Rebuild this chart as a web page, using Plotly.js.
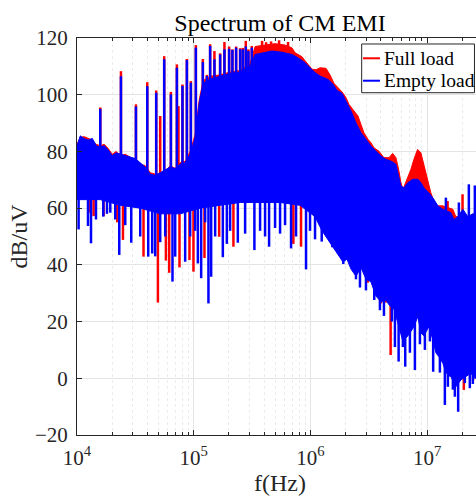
<!DOCTYPE html>
<html><head><meta charset="utf-8">
<script src="https://cdn.plot.ly/plotly-3.0.1.min.js"></script>
<style>html,body{margin:0;padding:0;overflow:hidden;background:#fff}</style>
</head><body><div id="chart"></div>
<script>
// ---- Full load (red) ----
const redTopF = [1.0e4,1.067e4,1.155e4,1.249e4,1.352e4,1.463e4,1.582e4,1.712e4,1.853e4,2.004e4,2.169e4,2.346e4,2.590e4,2.857e4,3.153e4,3.479e4,3.838e4,4.236e4,4.675e4,5.160e4,5.694e4,6.283e4,6.934e4,7.651e4,8.440e4,9.316e4,1.028e5,1.112e5,1.203e5,1.381e5,1.682e5,2.048e5,2.495e5,3.037e5,3.352e5,4.080e5,4.970e5,6.052e5,6.947e5,7.369e5,8.459e5,8.974e5,1.030e6,1.114e6,1.206e6,1.357e6,1.468e6,1.589e6,1.719e6,1.860e6,2.012e6,2.135e6,2.356e6,2.549e6,2.704e6,2.868e6,3.103e6,3.292e6,3.493e6,3.855e6,4.253e6,4.694e6,5.050e6,5.387e6,5.682e6,5.946e6,6.185e6,6.433e6,6.826e6,7.239e6,7.680e6,8.260e6,8.816e6,9.352e6,1.012e7,1.073e7,1.139e7,1.232e7,1.360e7,1.656e7,1.756e7,2.269e7,2.504e7,3.0e7];
const redTopV = [82.5,85,85.2,84.5,84,82.5,82,82.5,81,79,80,78.5,79,78,77,75.5,75,72.5,72,72,73,75,74,76,76.5,80,86,98,105,106.5,107,108,108.5,111,117,117.5,118,117.5,116.5,114.8,113.4,112,109,108.8,109.5,109.3,107,104,102.5,101,99,96.6,94.3,92.5,89.5,86.6,84.3,83.1,81.3,80.1,77.8,77.8,79.3,77.8,73.7,69,66.6,68.4,71.3,73.7,77.2,80.7,79.5,75.5,70.2,65.4,62.5,60.8,60.8,59.6,57,57,58,57];
const redBotF = [1.0e4,1.582e4,2.346e4,3.479e4,5.160e4,7.651e4,1.135e5,1.682e5,2.495e5,3.698e5,5.484e5,8.132e5,1.093e6,1.254e6,1.468e6,1.636e6,1.897e6,2.052e6,2.221e6,2.450e6,2.704e6,2.984e6,3.292e6,3.633e6,4.009e6,4.424e6,4.787e6,5.179e6,5.604e6,6.185e6,6.826e6,7.532e6,8.311e6,8.816e6,9.352e6,1.032e7,1.117e7,1.185e7,1.257e7,1.360e7,1.443e7,1.592e7,1.756e7,1.939e7,2.139e7,2.360e7,2.554e7,3.0e7];
const redBotV = [64,64,62,61,59,59,61,62,63,63,63,62,58,53,49,46,42,43,40,37,40,36,35,30,28,28.5,26.5,25.5,20.5,14,16,18.6,22.7,17,16,19.2,14.5,10,8.6,6.3,3,1.6,-2,0.4,1.6,2.8,1,1];
const redUpF = [1.582e4,2.379e4,3.197e4,3.995e4,4.768e4,5.160e4,5.582e4,6.370e4,7.169e4,7.398e4,8.003e4,8.730e4,9.445e4,1.042e5,1.196e5,1.295e5,1.381e5,1.503e5,1.682e5,1.831e5,2.008e5,2.143e5,2.305e5,2.495e5,2.630e5,2.790e5,2.937e5,3.141e5,3.848e5,4.163e5,4.594e5,5.378e5,6.420e5,1.492e7,2.004e7];
const redUpV = [95.5,108.3,96.6,104.4,101.5,92.5,113.6,101,110.7,96,103.6,112.6,104.8,117.5,112.6,107,117.8,115.4,114.6,118.6,117,116,117,116.4,116.5,119,116,117.2,119,118.5,118.8,119.2,118.6,62.5,64.9];
const redDnF = [1.300e4,1.387e4,1.689e4,2.212e4,2.475e4,3.712e4,4.930e4,5.771e4,6.160e4,7.546e4,9.188e4,9.940e4,1.235e5,1.650e5,2.186e5,7.128e5,8.293e5,1.440e6,3.085e6,4.009e6,4.424e6,4.853e6,2.056e7,2.470e7];
const redDnV = [58.4,57.2,57.2,55,48.8,42.9,26.7,41.5,37.2,39.1,41.7,37.6,42.4,49.9,46.4,47.4,46.4,50.9,33.7,26.4,26.7,8.2,-4.1,-0.6];

// ---- Empty load (blue) ----
const blueTopF = [1.0e4,1.067e4,1.155e4,1.249e4,1.352e4,1.463e4,1.582e4,1.712e4,1.853e4,2.004e4,2.169e4,2.346e4,2.590e4,2.857e4,3.153e4,3.479e4,3.838e4,4.236e4,4.675e4,5.160e4,5.694e4,6.283e4,6.934e4,7.651e4,8.440e4,9.316e4,1.028e5,1.112e5,1.203e5,1.381e5,1.682e5,2.048e5,2.495e5,3.037e5,3.352e5,3.848e5,4.686e5,5.704e5,6.947e5,7.818e5,8.974e5,9.901e5,1.093e6,1.206e6,1.412e6,1.558e6,1.685e6,1.860e6,2.052e6,2.221e6,2.450e6,2.704e6,2.984e6,3.292e6,3.633e6,4.009e6,4.424e6,4.883e6,5.387e6,5.682e6,5.946e6,6.308e6,6.826e6,7.532e6,8.311e6,8.816e6,9.352e6,1.032e7,1.139e7,1.232e7,1.360e7,1.592e7,1.689e7,1.827e7,2.016e7,2.225e7,2.456e7,3.0e7];
const blueTopV = [82,85.5,84.5,84,84.6,82,81.5,82,80.5,78.5,79.5,79,78.5,78,77.5,76,74.5,72,71.5,72.5,73.5,74.5,74,75.5,76,79,85,97,104,105.5,106.5,107.5,108,110,114.2,114.8,115.4,115,114.2,113,111.3,109.5,107.8,106.6,105.4,103.7,101.5,100.5,97.2,94.3,90.1,86.6,84.3,81.9,80.1,78.4,77.2,76.6,75.5,71.3,67.8,67.2,69,70.2,70.2,69,67.2,65.4,63.1,60.8,59.6,58.4,56,57,59.6,57,58,57];
const blueBotF = [1.0e4,1.582e4,2.346e4,3.479e4,5.160e4,7.651e4,1.135e5,1.682e5,2.495e5,3.698e5,5.484e5,8.132e5,1.093e6,1.254e6,1.468e6,1.636e6,1.897e6,2.052e6,2.221e6,2.450e6,2.704e6,2.984e6,3.292e6,3.633e6,4.009e6,4.424e6,4.787e6,5.179e6,5.604e6,6.185e6,6.826e6,7.532e6,8.311e6,8.816e6,9.352e6,1.032e7,1.117e7,1.185e7,1.257e7,1.360e7,1.443e7,1.592e7,1.756e7,1.939e7,2.139e7,2.360e7,2.554e7,3.0e7];
const blueBotV = [63,63,61,60,58,58,60,61,62,62,62,61,57,52,48,45,41,42,38.5,36,39,35,34,29,27,27.5,25.5,24.5,19.4,13,15,17.6,21.7,16,15,18.2,13.5,9,7.6,5.3,2,0.6,-3,-0.6,0.6,1.8,0,0];
const blueUpF = [1.582e4,2.379e4,3.197e4,3.995e4,4.768e4,5.582e4,6.370e4,7.169e4,8.003e4,8.730e4,9.445e4,1.042e5,1.196e5,1.295e5,1.381e5,1.503e5,1.682e5,1.831e5,2.008e5,2.143e5,2.305e5,2.495e5,2.630e5,2.790e5,2.937e5,3.141e5,1.443e7,1.864e7,2.269e7,2.554e7];
const blueUpV = [95,106.5,95.8,103,100.7,112.5,100.1,109.5,103.1,112.2,104.2,116.6,111.5,106.6,117.2,112.5,114.2,116,116.2,115.8,116.6,116,116,117,115.4,116.6,63.7,62,68.4,68];
const blueDnF = [1.032e4,1.242e4,1.318e4,1.454e4,1.679e4,1.806e4,1.928e4,2.126e4,2.301e4,2.590e4,2.914e4,3.479e4,4.073e4,4.406e4,4.675e4,5.160e4,5.694e4,6.574e4,6.934e4,8.440e4,9.316e4,1.028e5,1.084e5,1.157e5,1.252e5,1.336e5,1.409e5,1.525e5,1.774e5,1.920e5,2.048e5,2.384e5,2.753e5,3.306e5,3.698e5,4.080e5,4.416e5,4.970e5,5.484e5,6.052e5,6.812e5,7.516e5,9.152e5,9.901e5,1.093e6,1.247e6,1.537e6,1.908e6,2.450e6,2.651e6,2.984e6,3.513e6,3.930e6,4.253e6,4.980e6,5.283e6,5.682e6,6.185e6,6.471e6,7.097e6,7.833e6,8.644e6,9.539e6,1.053e7,1.123e7,1.282e7,1.414e7,1.501e7,1.561e7,1.656e7,1.722e7,1.838e7,2.097e7,2.313e7,2.456e7];
const blueDnV = [52.5,53.7,47.6,56,57,58,58.4,56,43.5,54,47.8,50,42.9,44,43,48,50,34.1,42.9,41.1,50,52,40.5,35.3,55,26.4,35.8,50,42.7,47.4,52,47.8,51,45.2,52,50,46.4,53,51,54,45.8,50,38.4,52,49,48.2,46.2,40.3,34.9,32,31,27.6,24,22,20,11,5.9,11,4.1,9,2.9,12,10,13,2.3,2,-9.4,-3,0.6,-4,-6.5,-11.8,-1.7,-3.5,-2];

const seriesNames = ['Full load', 'Empty load'];
const xTickVals = [1e4, 1e5, 1e6, 1e7];
const xTickText = ['10<sup>4</sup>', '10<sup>5</sup>', '10<sup>6</sup>', '10<sup>7</sup>'];
const yTickVals = [-20, 0, 20, 40, 60, 80, 100, 120];

function interp(F, V, f) {
  const lf = Math.log10(f);
  if (f <= F[0]) return V[0];
  for (let i = 0; i < F.length - 1; i++) {
    const a = Math.log10(F[i]), b = Math.log10(F[i + 1]);
    if (lf >= a && lf <= b) return V[i] + (V[i + 1] - V[i]) * (lf - a) / (b - a);
  }
  return V[V.length - 1];
}
function bandTrace(tF, tV, bF, bV, color) {
  return {x: tF.concat(bF.slice().reverse()), y: tV.concat(bV.slice().reverse()),
    type: 'scatter', mode: 'lines', fill: 'toself', fillcolor: color,
    line: {color: color, width: 1}, hoverinfo: 'skip', showlegend: false};
}
function spikeTrace(F, V, tF, tV, bF, bV, color) {
  const xs = [], ys = [];
  for (let i = 0; i < F.length; i++) {
    const base = (interp(tF, tV, F[i]) + interp(bF, bV, F[i])) / 2;
    xs.push(F[i], F[i], null); ys.push(base, V[i], null);
  }
  return {x: xs, y: ys, type: 'scatter', mode: 'lines', line: {color: color, width: 2.5},
    hoverinfo: 'skip', showlegend: false, connectgaps: false};
}
const RED = '#ff0000', BLUE = '#0000ff';
const traces = [
  bandTrace(redTopF, redTopV, redBotF, redBotV, RED),
  spikeTrace(redUpF, redUpV, redTopF, redTopV, redBotF, redBotV, RED),
  spikeTrace(redDnF, redDnV, redTopF, redTopV, redBotF, redBotV, RED),
  bandTrace(blueTopF, blueTopV, blueBotF, blueBotV, BLUE),
  spikeTrace(blueUpF, blueUpV, blueTopF, blueTopV, blueBotF, blueBotV, BLUE),
  spikeTrace(blueDnF, blueDnV, blueTopF, blueTopV, blueBotF, blueBotV, BLUE)
];

const FONT = 'Liberation Serif, Times New Roman, serif';
const AX = '#262626';
const layout = {
  width: 484, height: 498,
  margin: {l: 77, r: 1, t: 38, b: 63},
  paper_bgcolor: '#fff', plot_bgcolor: '#fff',
  showlegend: false,
  font: {family: FONT, color: AX},
  title: {text: 'Spectrum of CM EMI', font: {family: FONT, size: 24, color: '#000'},
    x: 0.5, xref: 'paper', xanchor: 'center', y: 0.954, yref: 'container', yanchor: 'middle'},
  xaxis: {type: 'log', range: [4, Math.log10(3e7)], tickmode: 'array', tickvals: xTickVals, ticktext: xTickText,
    ticks: 'inside', ticklen: 5, tickcolor: AX, showline: true, linecolor: AX,
    linewidth: 1, mirror: 'ticks', showgrid: true, gridcolor: '#e4e4e4', zeroline: false,
    tickfont: {family: FONT, size: 21, color: AX}, ticklabelstandoff: 4,
    minor: {tickvals: [2e4,3e4,4e4,5e4,6e4,7e4,8e4,9e4,2e5,3e5,4e5,5e5,6e5,7e5,8e5,9e5,2e6,3e6,4e6,5e6,6e6,7e6,8e6,9e6,2e7,3e7],
      ticks: 'inside', ticklen: 3, tickcolor: AX, showgrid: true, gridcolor: '#ebebeb', griddash: 'dot'},
    title: {text: 'f(Hz)', font: {family: FONT, size: 24, color: AX}, standoff: 4}},
  yaxis: {range: [-20, 120], tickmode: 'array', tickvals: yTickVals, ticks: 'inside', ticklen: 5,
    tickcolor: AX, showline: true, linecolor: AX, linewidth: 1, mirror: 'ticks', showgrid: true,
    gridcolor: '#e4e4e4', zeroline: false, ticklabelstandoff: 4,
    tickfont: {family: FONT, size: 21, color: AX},
    title: {text: 'dB/uV', font: {family: FONT, size: 24, color: AX}, standoff: 0}},
  shapes: [
    {type: 'rect', xref: 'paper', yref: 'paper', x0: 0.7012, x1: 0.979, y0: 0.8622, y1: 0.9849,
      fillcolor: '#fff', line: {color: AX, width: 1}, layer: 'above'},
    {type: 'line', xref: 'paper', yref: 'paper', x0: 0.7044, x1: 0.7463, y0: 0.9489, y1: 0.9489,
      line: {color: RED, width: 2}, layer: 'above'},
    {type: 'line', xref: 'paper', yref: 'paper', x0: 0.7044, x1: 0.7463, y0: 0.8924, y1: 0.8924,
      line: {color: BLUE, width: 2}, layer: 'above'}
  ],
  annotations: [
    {text: seriesNames[0], xref: 'paper', yref: 'paper', x: 0.7505, y: 0.9489, xanchor: 'left',
      yanchor: 'middle', showarrow: false, font: {family: FONT, size: 19.5, color: '#000'}},
    {text: seriesNames[1], xref: 'paper', yref: 'paper', x: 0.7505, y: 0.8924, xanchor: 'left',
      yanchor: 'middle', showarrow: false, font: {family: FONT, size: 19.5, color: '#000'}}
  ]
};
Plotly.newPlot('chart', traces, layout, {displayModeBar: false, staticPlot: true});
</script></body></html>
